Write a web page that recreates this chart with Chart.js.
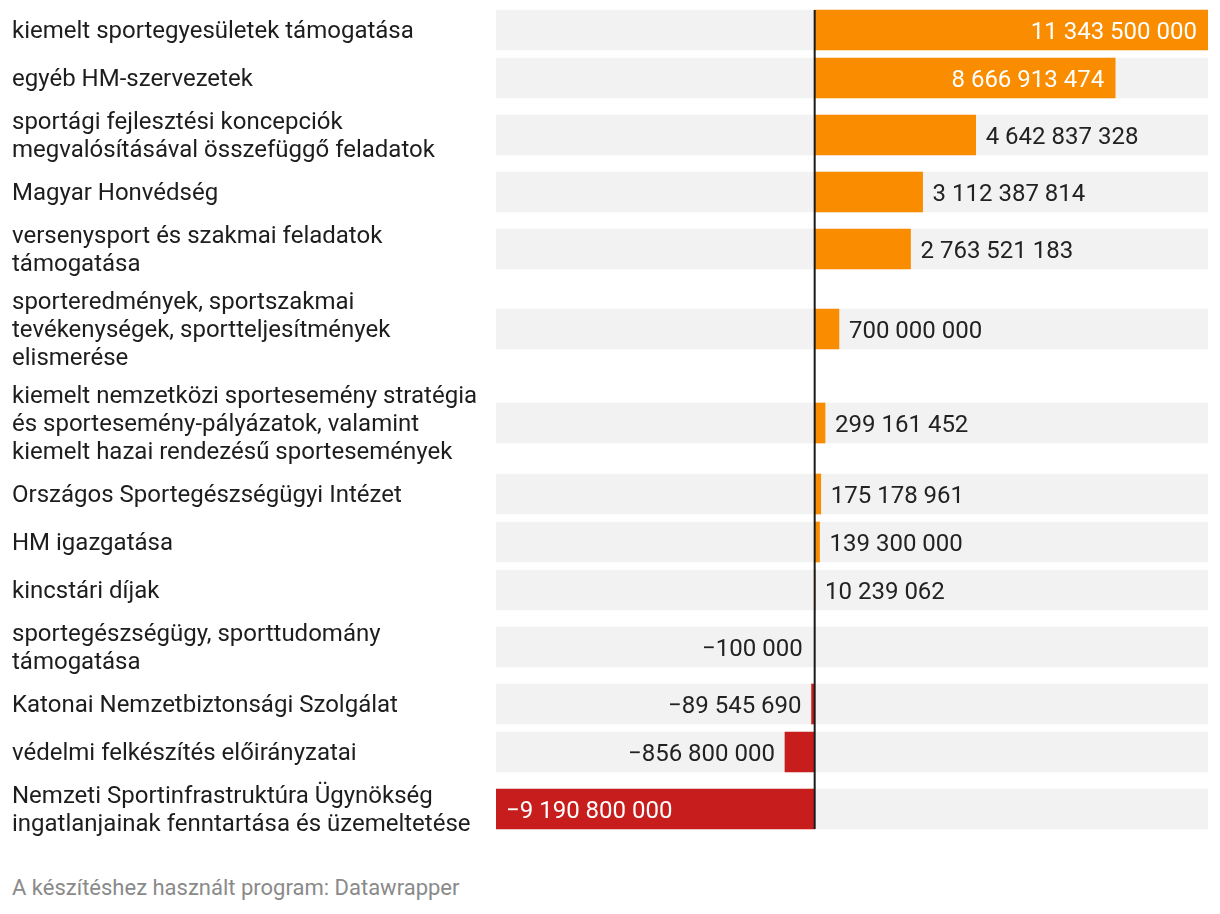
<!DOCTYPE html>
<html lang="hu">
<head>
<meta charset="utf-8">
<title>Előirányzatok változása</title>
<script src="https://cdn.jsdelivr.net/npm/chart.js@4/dist/chart.umd.min.js"></script>
<style>
  html, body { margin: 0; padding: 0; background: #fff; }
  body { width: 1220px; height: 914px; position: relative; font-family: Roboto, "Noto Sans", sans-serif; }
  #wrap { position: absolute; left: 0; top: 0; width: 1220px; height: 846px; }
  #footer { position: absolute; left: 12px; top: 874px; font-size: 22px; line-height: 28px; color: #8a8a8a; }
</style>
</head>
<body>
<div id="wrap"><canvas id="chart"></canvas></div>
<div id="footer">A készítéshez használt program: Datawrapper</div>
<script>
// categories (line breaks as in the original)
const labels = [
    ['kiemelt sportegyesületek támogatása'],
    ['egyéb HM-szervezetek'],
    ['sportági fejlesztési koncepciók', 'megvalósításával összefüggő feladatok'],
    ['Magyar Honvédség'],
    ['versenysport és szakmai feladatok', 'támogatása'],
    ['sporteredmények, sportszakmai', 'tevékenységek, sportteljesítmények', 'elismerése'],
    ['kiemelt nemzetközi sportesemény stratégia', 'és sportesemény-pályázatok, valamint', 'kiemelt hazai rendezésű sportesemények'],
    ['Országos Sportegészségügyi Intézet'],
    ['HM igazgatása'],
    ['kincstári díjak'],
    ['sportegészségügy, sporttudomány', 'támogatása'],
    ['Katonai Nemzetbiztonsági Szolgálat'],
    ['védelmi felkészítés előirányzatai'],
    ['Nemzeti Sportinfrastruktúra Ügynökség', 'ingatlanjainak fenntartása és üzemeltetése']
];

// values (Ft)
const values = [
    11343500000, 8666913474, 4642837328, 3112387814, 2763521183,
    700000000, 299161452, 175178961, 139300000, 10239062,
    -100000, -89545690, -856800000, -9190800000
];

const orange = '#fa8c00';
const red = '#c71e1d';
const bgGrey = '#f2f2f2';

// row slots grow with the number of label lines
const rowHeight = n => n === 1 ? 48 : 10 + n * 28;
const centers = [];
let acc = 0;
labels.forEach(l => {
    const h = rowHeight(l.length);
    centers.push(acc + h / 2);
    acc += h;
});
const totalHeight = acc;

const xMin = Math.min(...values);
const xMax = Math.max(...values);

function fmt(v) {
    const s = Math.abs(v).toString().replace(/\B(?=(\d{3})+(?!\d))/g, ' ');
    return (v < 0 ? '\u2212' : '') + s;
}

const fontFamily = 'Roboto, "Noto Sans", sans-serif';

// zero line + value labels
const overlay = {
    id: 'overlay',
    afterDatasetsDraw(chart) {
        const ctx = chart.ctx;
        const xs = chart.scales.x;
        const ys = chart.scales.y;
        const x0 = xs.getPixelForValue(0);

        ctx.save();
        ctx.strokeStyle = '#1a1a1a';
        ctx.lineWidth = 2;
        ctx.beginPath();
        ctx.moveTo(x0, ys.getPixelForValue(centers[0]) - 20);
        ctx.lineTo(x0, ys.getPixelForValue(centers[centers.length - 1]) + 20);
        ctx.stroke();

        ctx.font = '24px ' + fontFamily;
        ctx.textBaseline = 'middle';
        const meta = chart.getDatasetMeta(0);
        meta.data.forEach((bar, i) => {
            const v = values[i];
            const txt = fmt(v);
            const w = ctx.measureText(txt).width;
            const len = Math.abs(bar.x - bar.base);
            const inside = len > w + 22;
            const y = bar.y + 3;
            if (v >= 0) {
                if (inside) {
                    ctx.fillStyle = '#fff';
                    ctx.textAlign = 'right';
                    ctx.fillText(txt, bar.x - 11, y);
                } else {
                    ctx.fillStyle = '#222';
                    ctx.textAlign = 'left';
                    ctx.fillText(txt, Math.max(bar.x, x0) + 10, y);
                }
            } else {
                if (inside) {
                    ctx.fillStyle = '#fff';
                    ctx.textAlign = 'left';
                    ctx.fillText(txt, bar.x + 10, y);
                } else {
                    ctx.fillStyle = '#222';
                    ctx.textAlign = 'right';
                    ctx.fillText(txt, Math.min(bar.x, x0 - 2) - 10, y);
                }
            }
        });
        ctx.restore();
    }
};

new Chart(document.getElementById('chart'), {
    type: 'bar',
    data: {
        datasets: [
            {
                label: 'változás',
                data: values.map((v, i) => ({ x: v, y: centers[i] })),
                backgroundColor: values.map(v => v >= 0 ? orange : red),
                barThickness: 40,
                grouped: false,
                borderWidth: 0
            },
            {
                label: 'háttér',
                data: centers.map(c => ({ x: [xMin, xMax], y: c })),
                backgroundColor: bgGrey,
                barThickness: 40,
                grouped: false,
                borderWidth: 0
            }
        ]
    },
    options: {
        indexAxis: 'y',
        responsive: true,
        maintainAspectRatio: false,
        animation: false,
        layout: { padding: { left: 12, right: 12, top: 6, bottom: 4 } },
        plugins: {
            legend: { display: false },
            tooltip: { enabled: false }
        },
        scales: {
            x: {
                type: 'linear',
                min: xMin,
                max: xMax,
                display: false
            },
            y: {
                type: 'linear',
                reverse: true,
                offset: false,
                min: 0,
                max: totalHeight,
                grid: { display: false, offset: false },
                border: { display: false },
                afterBuildTicks(scale) {
                    scale.ticks = centers.map(c => ({ value: c }));
                },
                afterFit(scale) {
                    scale.width = 484;
                    // labels sit inside their rows, no extra room needed
                    scale.paddingTop = 0;
                    scale.paddingBottom = 0;
                },
                ticks: {
                    autoSkip: false,
                    crossAlign: 'far',
                    padding: 0,
                    labelOffset: 2,
                    color: '#1d1d1d',
                    font: { family: fontFamily, size: 24, lineHeight: '28px' },
                    callback: (value, index) => labels[index]
                }
            }
        }
    },
    plugins: [overlay]
});
</script>
</body>
</html>
